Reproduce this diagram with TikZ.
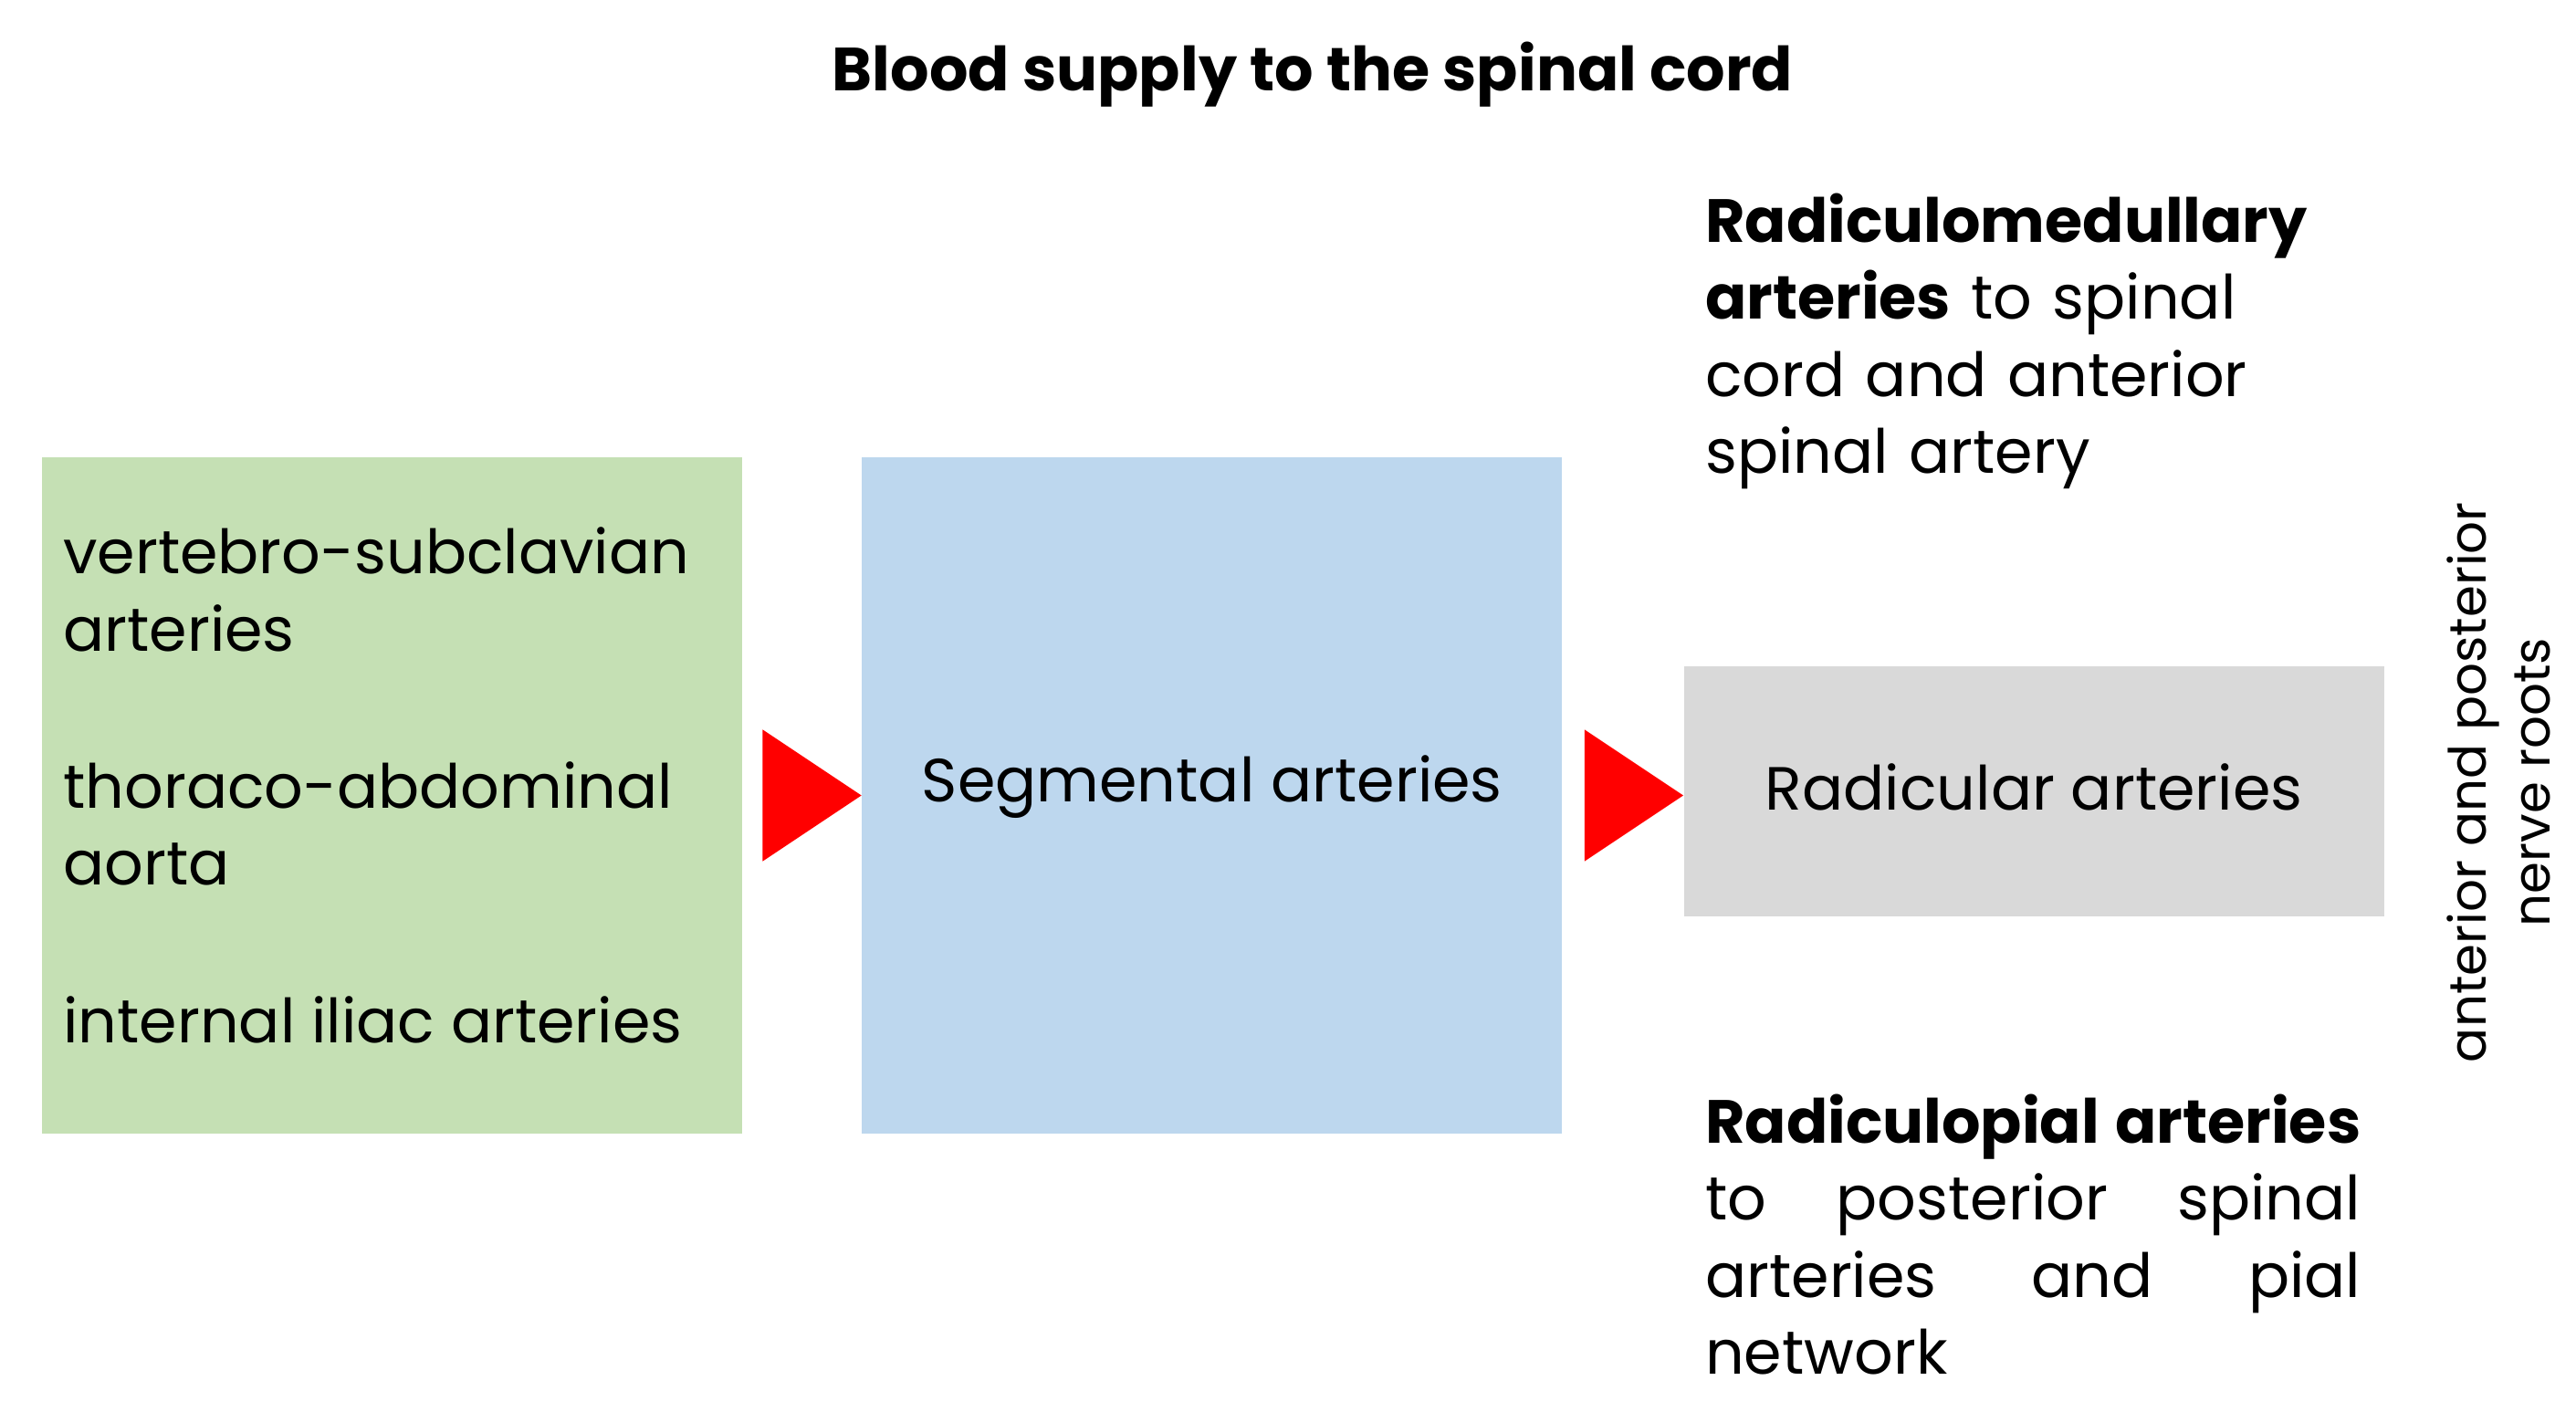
\documentclass[tikz,border=0pt]{standalone}
\usepackage{fontspec}
\setmainfont{Poppins}
\usetikzlibrary{positioning}
\definecolor{boxgreen}{HTML}{C5E0B4}
\definecolor{boxblue}{HTML}{BDD7EE}
\definecolor{boxgrey}{HTML}{D9D9D9}
\tikzset{
  box/.style={minimum width=425, inner sep=0pt, anchor=north west},
  txt/.style={font=\fontsize{19}{24}\selectfont, align=left, inner sep=0pt},
  tip/.style={fill=red, draw=none}
}
\begin{document}
\begin{tikzpicture}[x=0.01804cm, y=-0.01804cm]
  \useasboundingbox (0,0) rectangle (1564,857);
  \node[font=\fontsize{19}{22}\selectfont\bfseries] (title) at (797,45) {Blood supply to the spinal cord};

  % boxes
  \node[box, fill=boxgreen, minimum height=411*0.01804cm, minimum width=425*0.01804cm] (src) at (25,277) {};
  \node[box, fill=boxblue, minimum height=411*0.01804cm, minimum width=425*0.01804cm] (seg) at (523,277) {};
  \node[box, fill=boxgrey, minimum height=152*0.01804cm, minimum width=425*0.01804cm] (rad) at (1022,404) {};

  % arrow heads
  \coordinate (t1) at (seg.west |- 0,483);
  \coordinate (t2) at (rad.west |- 0,483);
  \fill[tip] (t1) -- ++(-60,-40) -- ++(0,80) -- cycle;
  \fill[tip] (t2) -- ++(-60,40) -- ++(0,-80) -- cycle;

  % texts
  \node[txt, anchor=west] (v1) at (38,358) {vertebro-subclavian\\arteries};
  \node[txt, anchor=west] (v2) at (38,500) {thoraco-abdominal\\aorta};
  \node[txt, anchor=west] (v3) at (38,619) {internal iliac arteries};
  \node[txt] (segt) at (seg.center |- 0,478) {Segmental arteries};
  \node[txt] (radt) at (rad.center |- 0,478) {Radicular arteries};

  \node[txt, anchor=north west, text width=400*0.01804cm] (rm) at (1035,117)
    {\textbf{Radiculomedullary}\\\textbf{arteries} to spinal\\cord and anterior\\spinal artery};
  \node[txt, anchor=north west, text width=398*0.01804cm] (rp) at (1035,664)
    {\textbf{Radiculopial}\hfill\textbf{arteries}\\to\hfill posterior\hfill spinal\\arteries\hfill and\hfill pial\\network};

  \node[txt, font=\fontsize{16}{20}\selectfont, rotate=90, align=center] (roots) at (1517,475) {anterior and posterior\\nerve roots};
\end{tikzpicture}
\end{document}
